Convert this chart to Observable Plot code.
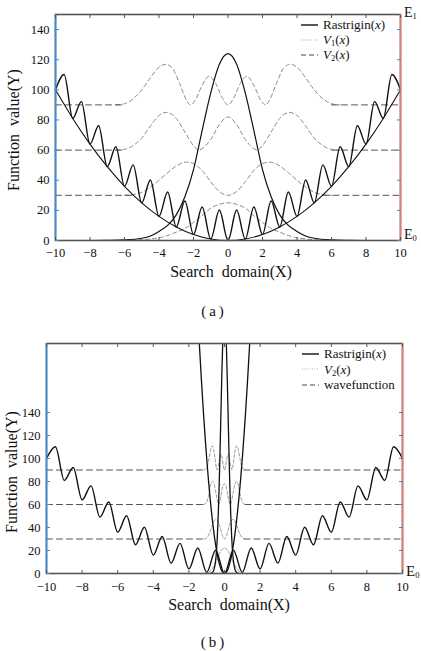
<!DOCTYPE html>
<html><head><meta charset="utf-8">
<script src="https://cdn.jsdelivr.net/npm/d3@7"></script>
<script src="https://cdn.jsdelivr.net/npm/@observablehq/plot@0.6"></script>
<style>
body{margin:0;background:#fff;}
#wrap{position:relative;width:421px;height:651px;overflow:hidden;font-family:"Liberation Serif","DejaVu Serif",serif;color:#111;}
.abs{position:absolute;white-space:nowrap;}
.leg{position:absolute;font-size:13px;}
.leg .row{display:flex;align-items:center;line-height:13px;}
.leg svg{margin-right:5px;}
sub{font-size:8.5px;line-height:0;vertical-align:-0.25em;}
</style></head><body><div id="wrap"></div>
<script>
// ---------- data ----------
const xDomain = [-10, 10];
const xTicks = [-10, -8, -6, -4, -2, 0, 2, 4, 6, 8, 10];
const yTicks = [0, 20, 40, 60, 80, 100, 120, 140];
const yDomainA = [0, 150];
const yDomainB = [0, 200];

// Rastrigin(x)
const rastX = [-10,-9.5,-9,-8.5,-8,-7.5,-7,-6.5,-6,-5.5,-5,-4.5,-4,-3.5,-3,-2.5,-2,-1.5,-1,-0.5,0,0.5,1,1.5,2,2.5,3,3.5,4,4.5,5,5.5,6,6.5,7,7.5,8,8.5,9,9.5,10];
const rastY = [100,110.2,81,92.2,64,76.2,49,62.2,36,50.2,25,40.2,16,32.2,9,26.2,4,22.2,1,20.2,0,20.2,1,22.2,4,26.2,9,32.2,16,40.2,25,50.2,36,62.2,49,76.2,64,92.2,81,110.2,100];

// (a) V1 parabola, bell
const paraAX = [-10,-9,-8,-7,-6,-5,-4,-3,-2,-1,0,1,2,3,4,5,6,7,8,9,10];
const paraAY = [100,81,64,49,36,25,16,9,4,1,0,1,4,9,16,25,36,49,64,81,100];
const bellX = [-8,-7,-6,-5,-4.5,-4,-3.5,-3,-2.5,-2,-1.5,-1,-0.5,0,0.5,1,1.5,2,2.5,3,3.5,4,4.5,5,6,7,8];
const bellY = [0,0.1,0.4,1.5,3,6,10,17,29,47,73,98,117,124,117,98,73,47,29,17,10,6,3,1.5,0.4,0.1,0];

// (a) wave curves (levels 90, 60, 30, 0)
const w3AX = [-6.5,-6,-5.5,-5,-4.5,-4,-3.6,-3.2,-2.8,-2.4,-2.2,-1.9,-1.5,-1.1,-0.7,-0.35,0,0.35,0.7,1.1,1.5,1.9,2.2,2.4,2.8,3.2,3.6,4,4.5,5,5.5,6,6.5];
const w3AY = [90,90.8,94,100,108,115,117,114,104,93,90,93,103,109,104,95,90,95,104,109,103,93,90,93,104,114,117,115,108,100,94,90.8,90];
const w2AX = [-6.5,-6,-5.5,-5,-4.5,-4,-3.55,-3,-2.5,-2,-1.7,-1.3,-1,-0.5,0,0.5,1,1.3,1.7,2,2.5,3,3.55,4,4.5,5,5.5,6,6.5];
const w2AY = [60,60.5,63,68,76,83,85,81,72,63,60,63,67,77,82,77,67,63,60,63,72,81,85,83,76,68,63,60.5,60];
const w1AX = [-6,-5.5,-5,-4.5,-4,-3.5,-3,-2.4,-2,-1.5,-1,-0.5,0,0.5,1,1.5,2,2.4,3,3.5,4,4.5,5,5.5,6];
const w1AY = [30,30.5,32,35.5,40,45,49.5,52,51,46.5,39,32.5,30,32.5,39,46.5,51,52,49.5,45,40,35.5,32,30.5,30];
const w0AX = [-6,-5,-4.5,-4,-3.5,-3,-2.5,-2,-1.5,-1,-0.5,0,0.5,1,1.5,2,2.5,3,3.5,4,4.5,5,6];
const w0AY = [0,0.5,1,1.8,3.3,5.5,8,12,16.5,21.5,24,25,24,21.5,16.5,12,8,5.5,3.3,1.8,1,0.5,0];
const levels = [30, 60, 90];
const flatInnerA = [5.5, 6, 6];

// (b) V2 steep parabola and spike
const paraBX = [-1.5,-1.4,-1.3,-1.2,-1.1,-1,-0.9,-0.8,-0.7,-0.6,-0.5,-0.4,-0.3,-0.2,-0.1,0,0.1,0.2,0.3,0.4,0.5,0.6,0.7,0.8,0.9,1,1.1,1.2,1.3,1.4,1.5];
const paraBY = [225,196,169,144,121,100,81,64,49,36,25,16,9,4,1,0,1,4,9,16,25,36,49,64,81,100,121,144,169,196,225];
const spikeX = [-0.8,-0.7,-0.6,-0.5,-0.45,-0.4,-0.35,-0.3,-0.25,-0.2,-0.15,-0.1,-0.05,0,0.05,0.1,0.15,0.2,0.25,0.3,0.35,0.4,0.45,0.5,0.6,0.7,0.8];
const spikeY = [0.1,0.6,2.9,11,19.5,33,51.5,76,106,140,173,201,220,227,220,201,173,140,106,76,51.5,33,19.5,11,2.9,0.6,0.1];

// (b) wave curves
const w3BX = [-1.15,-1.05,-0.95,-0.87,-0.8,-0.74,-0.68,-0.61,-0.53,-0.46,-0.42,-0.36,-0.28,-0.21,-0.13,-0.07,0,0.07,0.13,0.21,0.28,0.36,0.42,0.46,0.53,0.61,0.68,0.74,0.8,0.87,0.95,1.05,1.15];
const w3BY = [90,91,94,100,106,110,111,108,100,92,90,93,100,104,100,94,90,94,100,104,100,93,90,92,100,108,111,110,106,100,94,91,90];
const w2BX = [-1.2,-1.1,-1,-0.92,-0.84,-0.76,-0.67,-0.57,-0.47,-0.38,-0.32,-0.25,-0.18,-0.09,0,0.09,0.18,0.25,0.32,0.38,0.47,0.57,0.67,0.76,0.84,0.92,1,1.1,1.2];
const w2BY = [60,60.5,62,66,72,78,80,77,69,62,60,63,69,76,78,76,69,63,60,62,69,77,80,78,72,66,62,60.5,60];
const w1BX = [-1.15,-1.05,-0.95,-0.85,-0.75,-0.66,-0.57,-0.46,-0.38,-0.28,-0.19,-0.1,0,0.1,0.19,0.28,0.38,0.46,0.57,0.66,0.75,0.85,0.95,1.05,1.15];
const w1BY = [30,30.5,32,35,39,43,46,47,46,42,37,32,30,32,37,42,46,47,46,43,39,35,32,30.5,30];
const w0BX = [-1.15,-0.95,-0.85,-0.76,-0.66,-0.57,-0.47,-0.38,-0.28,-0.19,-0.1,0,0.1,0.19,0.28,0.38,0.47,0.57,0.66,0.76,0.85,0.95,1.15];
const w0BY = [0,0.5,1.5,3,5,7.5,10.5,14,17.5,20,21.5,22,21.5,20,17.5,14,10.5,7.5,5,3,1.5,0.5,0];
const flatInnerB = [1.1, 1.15, 1.1];

// ---------- helpers ----------
const BLUE = "#3b8bd8", RED = "#e87a6c", FRAME = "#555";
const pts = (xs, ys, g) => xs.map((x, i) => ({x, y: ys[i], g}));
function flatSegs(inner) {
  const out = [];
  levels.forEach((l, k) => {
    out.push({x: xDomain[0], y: l, g: "L" + k}, {x: -inner[k], y: l, g: "L" + k});
    out.push({x: inner[k], y: l, g: "R" + k}, {x: xDomain[1], y: l, g: "R" + k});
  });
  return out;
}
function axes(padX) {
  return [
    Plot.frame({stroke: FRAME, strokeWidth: 1.6}),
    Plot.ruleX([xDomain[0]], {stroke: BLUE, strokeWidth: 1.6}),
    Plot.ruleX([xDomain[1]], {stroke: RED, strokeWidth: 1.6}),
    Plot.axisX(xTicks, {anchor: "bottom", tickSize: 0, tickPadding: padX, label: null, fill: "#111"}),
    Plot.axisX(xTicks, {anchor: "bottom", tickSize: -3, fill: "none", stroke: FRAME, label: null}),
    Plot.axisX(xTicks, {anchor: "top", tickSize: -3, fill: "none", stroke: FRAME, label: null}),
    Plot.axisY(yTicks, {anchor: "left", tickSize: 0, tickPadding: 6, label: null, fill: "#111"}),
    Plot.axisY(yTicks, {anchor: "left", tickSize: -4, fill: "none", stroke: BLUE, label: null}),
    Plot.axisY(yTicks, {anchor: "right", tickSize: -4, fill: "none", stroke: BLUE, label: null})
  ];
}
const style = {fontFamily: "'Liberation Serif', 'DejaVu Serif', serif", fontSize: "12.5px", color: "#111", background: "transparent", overflow: "visible"};

// ---------- panel (a) ----------
const wavesA = [...pts(w3AX, w3AY, 3), ...pts(w2AX, w2AY, 2), ...pts(w1AX, w1AY, 1), ...pts(w0AX, w0AY, 0)];
const plotA = Plot.plot({
  width: 421, height: 280,
  marginLeft: 55, marginRight: 21, marginTop: 14, marginBottom: 40,
  x: {domain: xDomain}, y: {domain: yDomainA},
  style,
  marks: [
    Plot.line(wavesA, {x: "x", y: "y", z: "g", curve: "monotone-x", stroke: "#8a8a8a", strokeWidth: 1, strokeDasharray: "4,3"}),
    Plot.line(flatSegs(flatInnerA), {x: "x", y: "y", z: "g", stroke: "#555", strokeWidth: 1, strokeDasharray: "6,4"}),
    Plot.line(pts(paraAX, paraAY), {x: "x", y: "y", curve: "natural", stroke: "#111", strokeWidth: 1.1}),
    Plot.line(pts(bellX, bellY), {x: "x", y: "y", curve: "monotone-x", stroke: "#111", strokeWidth: 1.2}),
    Plot.line(pts(rastX, rastY), {x: "x", y: "y", curve: "monotone-x", stroke: "#111", strokeWidth: 1.4}),
    ...axes(8)
  ]
});

// ---------- panel (b) ----------
const wavesB = [...pts(w3BX, w3BY, 3), ...pts(w2BX, w2BY, 2), ...pts(w1BX, w1BY, 1), ...pts(w0BX, w0BY, 0)];
const plotB = Plot.plot({
  width: 421, height: 290,
  marginLeft: 46, marginRight: 19, marginTop: 13, marginBottom: 47,
  x: {domain: xDomain}, y: {domain: yDomainB},
  style,
  marks: [
    Plot.line(flatSegs(flatInnerB), {x: "x", y: "y", z: "g", stroke: "#555", strokeWidth: 1, strokeDasharray: "6,4"}),
    Plot.line(wavesB, {x: "x", y: "y", z: "g", curve: "monotone-x", stroke: "#999", strokeWidth: 1, strokeDasharray: "3,2"}),
    Plot.line(pts(rastX, rastY), {x: "x", y: "y", curve: "monotone-x", stroke: "#111", strokeWidth: 1.4}),
    Plot.line(pts(paraBX, paraBY), {x: "x", y: "y", curve: "natural", stroke: "#111", strokeWidth: 1.3, clip: true}),
    Plot.line(pts(spikeX, spikeY), {x: "x", y: "y", curve: "monotone-x", stroke: "#111", strokeWidth: 1.3, clip: true}),
    ...axes(9)
  ]
});

// ---------- assemble ----------
const wrap = document.getElementById("wrap");
function addAbs(html, css) {
  const d = document.createElement("div");
  d.className = "abs";
  d.innerHTML = html;
  Object.assign(d.style, css);
  wrap.appendChild(d);
  return d;
}
const holderA = addAbs("", {left: "0px", top: "0px"}); holderA.appendChild(plotA);
const holderB = addAbs("", {left: "0px", top: "330px"}); holderB.appendChild(plotB);

const titleCss = {fontSize: "16px", wordSpacing: "4px", lineHeight: "16px"};
addAbs("Search domain(X)", {...titleCss, left: "231px", top: "264px", transform: "translateX(-50%)"});
addAbs("Search domain(X)", {...titleCss, left: "229px", top: "597px", transform: "translateX(-50%)"});
addAbs("Function value(Y)", {...titleCss, left: "14px", top: "130px", transform: "translate(-50%,-50%) rotate(-90deg)"});
addAbs("Function value(Y)", {...titleCss, left: "12px", top: "472px", transform: "translate(-50%,-50%) rotate(-90deg)"});
addAbs("(a)", {fontSize: "15px", letterSpacing: "3px", left: "214px", top: "303px", transform: "translateX(-50%)"});
addAbs("(b)", {fontSize: "15px", letterSpacing: "3px", left: "214px", top: "634px", transform: "translateX(-50%)"});
addAbs("E<sub>1</sub>", {fontSize: "14px", left: "404px", top: "5px"});
addAbs("E<sub>0</sub>", {fontSize: "14px", left: "404px", top: "227px"});
addAbs("E<sub>0</sub>", {fontSize: "15px", left: "406px", top: "563px"});

function sample(kind) {
  const attrs = kind === "solid" ? "stroke='#111' stroke-width='1.4'"
    : kind === "dot" ? "stroke='#aaa' stroke-width='1' stroke-dasharray='1,1.5'"
    : "stroke='#444' stroke-width='1' stroke-dasharray='5,3'";
  return `<svg width="17" height="6"><line x1="0" y1="3" x2="17" y2="3" ${attrs}/></svg>`;
}
function legend(rows, left, top, gap) {
  const d = document.createElement("div");
  d.className = "leg";
  d.style.left = left + "px"; d.style.top = top + "px";
  d.innerHTML = rows.map(([k, t]) => `<div class="row" style="height:${gap}px">${sample(k)}<span>${t}</span></div>`).join("");
  wrap.appendChild(d);
}
legend([["solid", "Rastrigin(<i>x</i>)"], ["dot", "<i>V</i><sub>1</sub>(<i>x</i>)"], ["dash", "<i>V</i><sub>2</sub>(<i>x</i>)"]], 301, 17, 15);
legend([["solid", "Rastrigin(<i>x</i>)"], ["dot", "<i>V</i><sub>2</sub>(<i>x</i>)"], ["dash", "wavefunction"]], 302, 346, 15.5);
</script></body></html>
